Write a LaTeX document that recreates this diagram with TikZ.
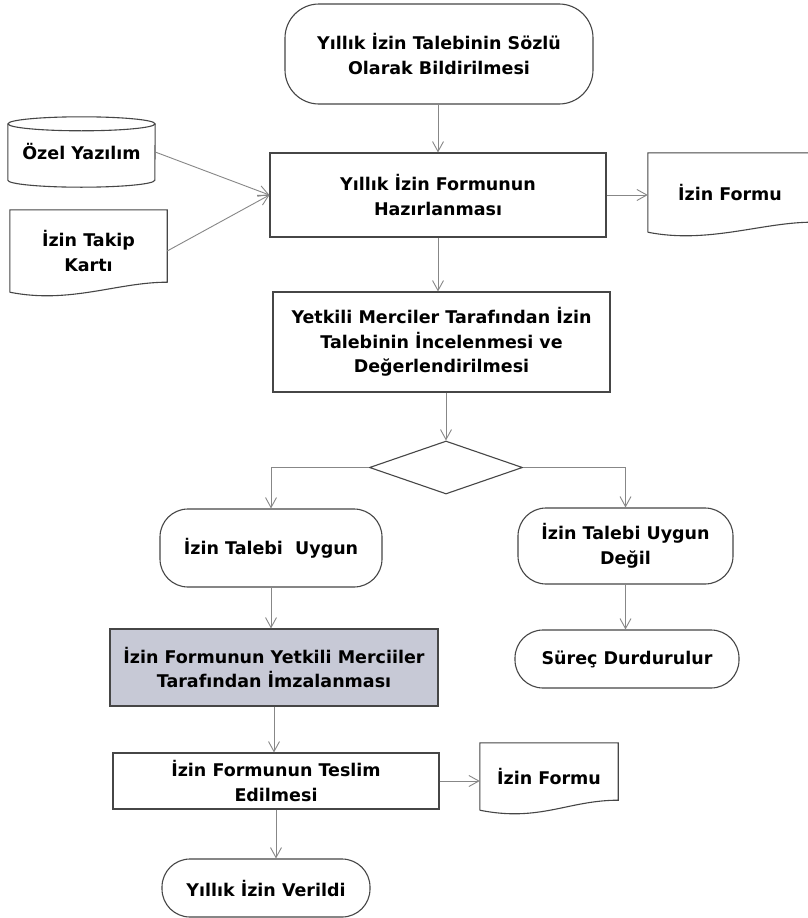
\documentclass[tikz,border=0pt]{standalone}
\usepackage{fontspec}
\setmainfont{DejaVu Sans}
\usetikzlibrary{shapes.geometric,arrows.meta}
\definecolor{cizgi}{RGB}{70,70,70}
\definecolor{okrengi}{RGB}{135,135,135}
\definecolor{gri}{RGB}{199,201,214}
\begin{document}
\begin{tikzpicture}[x=1pt,y=-1pt,
    yazi/.style={font=\bfseries\fontsize{17.5}{24.5}\selectfont, align=center, inner sep=0pt},
    terminal/.style={yazi, rectangle, rounded corners=28pt, draw=cizgi, line width=1.1pt},
    process/.style={yazi, rectangle, draw=cizgi, line width=1.1pt},
    docshape/.style={yazi, rectangle, draw=none},
    shapeline/.style={draw=cizgi, line width=1.1pt},
    arrow/.style={draw=okrengi, line width=0.9pt, -{Straight Barb[length=10pt,width=11pt]}}]
    \path[fill=white, use as bounding box] (0,0) rectangle (807,918);

    % ana akis
    \node[terminal, rounded corners=34pt, minimum width=308pt, minimum height=100pt] (talep) at (439,54) {Yıllık İzin Talebinin Sözlü\\Olarak Bildirilmesi};
    \node[process, minimum width=336pt, minimum height=84pt] (hazirlik) at (438,195) {Yıllık İzin Formunun\\Hazırlanması};
    \node[process, minimum width=337pt, minimum height=100pt] (kontrol) at (441.5,342) {Yetkili Merciler Tarafından İzin\\Talebinin İncelenmesi ve\\Değerlendirilmesi};
    \node[diamond, shapeline, minimum width=153pt, minimum height=53pt, inner sep=0pt] (karar) at (446,467.5) {};

    % girdiler ve belgeler
    \node[docshape, minimum width=147pt, minimum height=56pt] (yazilim) at (81.5,152) {Özel Yazılım};
    \draw[shapeline] (yazilim.north west) -- (yazilim.south west)
        arc[start angle=180, end angle=360, x radius=73.5pt, y radius=7pt] -- (yazilim.north east);
    \draw[shapeline] (yazilim.north) ellipse[x radius=73.5pt, y radius=7pt];
    \node[docshape, minimum width=157pt, minimum height=82pt] (kart) at (88.5,251) {İzin Takip\\Kartı};
    \node[docshape, minimum width=164pt, minimum height=79pt] (formu1) at (730,192.5) {İzin Formu};
    \node[docshape, minimum width=138pt, minimum height=67pt] (formu2) at (549,776.5) {İzin Formu};
    \foreach \d in {kart, formu1, formu2} {
        \draw[shapeline] (\d.south west) -- (\d.north west) -- (\d.north east) -- ([yshift=10pt]\d.south east)
            .. controls +(-50pt,0pt) and +(60pt,-12pt) .. (\d.south west);
    }

    % dallar
    \node[terminal, minimum width=222pt, minimum height=78pt] (uygun) at (271,548) {İzin Talebi\ \ Uygun};
    \node[terminal, minimum width=215pt, minimum height=76pt] (degil) at (625.5,546) {İzin Talebi Uygun\\Değil};
    \node[terminal, minimum width=224pt, minimum height=58pt] (surec) at (627,659) {Süreç Durdurulur};
    \node[process, fill=gri, minimum width=328pt, minimum height=77pt] (imza) at (274,667.5) {İzin Formunun Yetkili Merciiler\\Tarafından İmzalanması};
    \node[process, minimum width=326pt, minimum height=56pt] (teslim) at (276,781) {İzin Formunun Teslim\\Edilmesi};
    \node[terminal, minimum width=208pt, minimum height=58pt] (verildi) at (266,888) {Yıllık İzin Verildi};

    % oklar
    \draw[arrow] (talep.south -| hazirlik.north) -- (hazirlik.north);
    \draw[arrow] (yazilim.east) -- (hazirlik.west);
    \draw[arrow] (kart.east) -- (hazirlik.west);
    \draw[arrow] (hazirlik.east) -- (hazirlik.east -| formu1.west);
    \draw[arrow] (hazirlik.south) -- (hazirlik.south |- kontrol.north);
    \draw[arrow] (karar.north |- kontrol.south) -- (karar.north);
    \draw[arrow] (karar.west) -| (uygun.north);
    \draw[arrow] (karar.east) -| (degil.north);
    \draw[arrow] (degil.south) -- (degil.south |- surec.north);
    \draw[arrow] (uygun.south) -- (uygun.south |- imza.north);
    \draw[arrow] (imza.south) -- (imza.south |- teslim.north);
    \draw[arrow] (teslim.east) -- (teslim.east -| formu2.west);
    \draw[arrow] (teslim.south) -- (teslim.south |- verildi.north);
\end{tikzpicture}
\end{document}
